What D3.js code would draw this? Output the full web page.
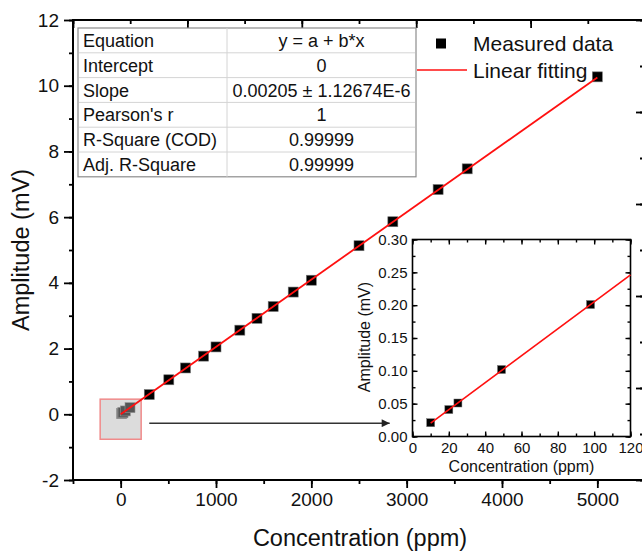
<!DOCTYPE html>
<html>
<head>
<meta charset="utf-8">
<script src="https://cdn.jsdelivr.net/npm/d3@7"></script>
<style>
  body { margin: 0; background: #fff; }
  svg { display: block; font-family: "Liberation Sans", Arial, sans-serif; }
</style>
</head>
<body>
<div id="chart"></div>
<script>
// Calibration data
const concMain = [10, 20, 25, 49, 98, 300, 505, 680, 870, 1000, 1250, 1430, 1600, 1810, 2000, 2500, 2855, 3330, 3635, 5000];
const ampMain = [0.021, 0.041, 0.051, 0.102, 0.201, 0.60, 1.05, 1.41, 1.77, 2.05, 2.56, 2.92, 3.28, 3.72, 4.08, 5.13, 5.86, 6.84, 7.47, 10.27];

// low concentration points shown in the inset
const concInset = [10, 20, 25, 49, 98];
const ampInset = [0.021, 0.041, 0.051, 0.102, 0.201];

// linear fit endpoints (y = b*x, b = 0.00205)
const fitMain = [[0, 0], [5000, 10.25]];
const fitInset = [[10, 0.0205], [120, 0.246]];

const xTicksMain = [0, 1000, 2000, 3000, 4000, 5000];
const yTicksMain = [-2, 0, 2, 4, 6, 8, 10, 12];
const xTicksInset = [0, 20, 40, 60, 80, 100, 120];
const yTicksInset = [0, 0.05, 0.10, 0.15, 0.20, 0.25, 0.30];

const tableLabels = ['Equation', 'Intercept', 'Slope', "Pearson's r", 'R-Square (COD)', 'Adj. R-Square'];
const tableValues = ['y = a + b*x', '0', '0.00205 \u00b1 1.12674E-6', '1', '0.99999', '0.99999'];

const legendLabels = ['Measured data', 'Linear fitting'];

const W = 642, H = 552;
const svg = d3.select('#chart').append('svg').attr('width', W).attr('height', H);

// plain hyphen for negatives, like the original
const intFmt = d => String(d);

// ---------- main plot ----------
const m = {left: 73, top: 20, right: 645, bottom: 480};
const x = d3.scaleLinear().domain([-500, 5500]).range([m.left, m.right]);
const y = d3.scaleLinear().domain([-2, 12]).range([m.bottom, m.top]);
// top / right axes carry plain 5-division ticks
const xTop = d3.scaleLinear().domain([0, 5]).range([m.left, m.right]);
const yRight = d3.scaleLinear().domain([0, 5]).range([m.bottom, m.top]);

function styleAxis(g, fs) {
    g.selectAll('.domain').remove();
    g.selectAll('line').attr('stroke', '#000').attr('stroke-width', 1.8);
    g.selectAll('text').attr('fill', '#111').style('font-size', fs + 'px');
}

const half = d => d3.range(d[0], d[1] + 1e-9, (d[1] - d[0]) / 10);

// bottom
svg.append('g').attr('transform', `translate(0,${m.bottom})`)
    .call(d3.axisBottom(x).tickValues(d3.range(-500, 5501, 500)).tickSize(4).tickFormat(''))
    .call(g => styleAxis(g, 18));
svg.append('g').attr('transform', `translate(0,${m.bottom})`)
    .call(d3.axisBottom(x).tickValues(xTicksMain).tickSize(8).tickPadding(5).tickFormat(intFmt))
    .call(g => styleAxis(g, 19));
// left
svg.append('g').attr('transform', `translate(${m.left},0)`)
    .call(d3.axisLeft(y).tickValues(d3.range(-2, 12.01, 1)).tickSize(4).tickFormat(''))
    .call(g => styleAxis(g, 18));
svg.append('g').attr('transform', `translate(${m.left},0)`)
    .call(d3.axisLeft(y).tickValues(yTicksMain).tickSize(9).tickPadding(5).tickFormat(intFmt))
    .call(g => styleAxis(g, 19));
// top (inward)
svg.append('g').attr('transform', `translate(0,${m.top})`)
    .call(d3.axisTop(xTop).tickValues(half([0, 5])).tickSize(-4).tickFormat(''))
    .call(g => styleAxis(g, 10));
svg.append('g').attr('transform', `translate(0,${m.top})`)
    .call(d3.axisTop(xTop).tickValues(d3.range(0, 6)).tickSize(-8).tickFormat(''))
    .call(g => styleAxis(g, 10));
// right (inward)
svg.append('g').attr('transform', `translate(${m.right},0)`)
    .call(d3.axisRight(yRight).tickValues(half([0, 5])).tickSize(-5).tickFormat(''))
    .call(g => styleAxis(g, 10));
svg.append('g').attr('transform', `translate(${m.right},0)`)
    .call(d3.axisRight(yRight).tickValues(d3.range(0, 6)).tickSize(-9).tickFormat(''))
    .call(g => styleAxis(g, 10));

// frame
svg.append('rect')
    .attr('x', m.left).attr('y', m.top)
    .attr('width', m.right - m.left).attr('height', m.bottom - m.top)
    .attr('fill', 'none').attr('stroke', '#000').attr('stroke-width', 2);

// axis titles
svg.append('text')
    .attr('x', (m.left + m.right) / 2 + 1).attr('y', 546)
    .attr('text-anchor', 'middle').style('font-size', '23.5px').attr('fill', '#111')
    .text('Concentration (ppm)');
svg.append('text')
    .attr('transform', `translate(29,250) rotate(-90)`)
    .attr('text-anchor', 'middle').style('font-size', '23.5px').attr('fill', '#111')
    .text('Amplitude (mV)');

// measured points
const mk = 10;
svg.append('g').selectAll('rect')
    .data(concMain.map((c, i) => [c, ampMain[i]]))
    .join('rect')
    .attr('x', d => x(d[0]) - mk / 2).attr('y', d => y(d[1]) - mk / 2)
    .attr('width', mk).attr('height', mk)
    .attr('fill', '#000').attr('stroke', '#777').attr('stroke-width', 0.6);

// highlight box around the low-concentration region
const box = {x0: -215, x1: 215, y0: -0.76, y1: 0.46};
svg.append('rect')
    .attr('x', x(box.x0)).attr('y', y(box.y1))
    .attr('width', x(box.x1) - x(box.x0)).attr('height', y(box.y0) - y(box.y1))
    .attr('fill', 'rgb(181,181,181)').attr('fill-opacity', 0.47)
    .attr('stroke', '#f08a8a').attr('stroke-width', 1.5);

// fit line
const line = d3.line().x(d => x(d[0])).y(d => y(d[1]));
svg.append('path').attr('d', line(fitMain))
    .attr('fill', 'none').attr('stroke', '#ff1010').attr('stroke-width', 1.8);

// arrow to the inset
svg.append('defs').append('marker')
    .attr('id', 'arrow').attr('viewBox', '0 0 10 10')
    .attr('refX', 10).attr('refY', 5)
    .attr('markerWidth', 10).attr('markerHeight', 8).attr('markerUnits', 'userSpaceOnUse')
    .attr('orient', 'auto')
    .append('path').attr('d', 'M0,0L10,5L0,10Z').attr('fill', '#222');
svg.append('line')
    .attr('x1', x(300)).attr('x2', x(2822))
    .attr('y1', y(-0.27)).attr('y2', y(-0.27))
    .attr('stroke', '#333').attr('stroke-width', 1.5)
    .attr('marker-end', 'url(#arrow)');

// ---------- statistics table ----------
const tb = {x: 78, y: 28, col: 227, right: 416, rowH: 24.8};
const tg = svg.append('g');
tg.append('rect')
    .attr('x', tb.x).attr('y', tb.y)
    .attr('width', tb.right - tb.x).attr('height', tb.rowH * tableLabels.length)
    .attr('fill', '#fff').attr('stroke', '#8c8c8c').attr('stroke-width', 1.2);
tableLabels.forEach((lab, i) => {
    if (i > 0) {
        tg.append('line')
            .attr('x1', tb.x + 1).attr('x2', tb.right - 1)
            .attr('y1', tb.y + i * tb.rowH).attr('y2', tb.y + i * tb.rowH)
            .attr('stroke', '#d4d4d4').attr('stroke-width', 1);
    }
    const cy = tb.y + (i + 0.5) * tb.rowH;
    tg.append('text').attr('x', tb.x + 5).attr('y', cy + 6.5)
        .style('font-size', '18px').attr('fill', '#111').text(lab);
    tg.append('text').attr('x', (tb.col + tb.right) / 2).attr('y', cy + 6.5)
        .attr('text-anchor', 'middle')
        .style('font-size', '18px').attr('fill', '#111').text(tableValues[i]);
});
tg.append('line')
    .attr('x1', tb.col).attr('x2', tb.col)
    .attr('y1', tb.y).attr('y2', tb.y + tb.rowH * tableLabels.length)
    .attr('stroke', '#d4d4d4').attr('stroke-width', 1);

// ---------- legend ----------
const lg = svg.append('g');
lg.append('rect').attr('x', 436).attr('y', 38.5).attr('width', 10).attr('height', 10).attr('fill', '#000');
lg.append('text').attr('x', 473).attr('y', 51).style('font-size', '21px').attr('fill', '#111').text(legendLabels[0]);
lg.append('line').attr('x1', 417).attr('x2', 467).attr('y1', 70).attr('y2', 70)
    .attr('stroke', '#ff1010').attr('stroke-width', 1.5);
lg.append('text').attr('x', 473).attr('y', 78).style('font-size', '21px').attr('fill', '#111').text(legendLabels[1]);

// ---------- inset ----------
const n = {left: 412.5, top: 239.5, right: 630.5, bottom: 436.5};
const xi = d3.scaleLinear().domain([0, 120]).range([n.left, n.right]);
const yi = d3.scaleLinear().domain([0, 0.30]).range([n.bottom, n.top]);

svg.append('rect')
    .attr('x', n.left).attr('y', n.top)
    .attr('width', n.right - n.left).attr('height', n.bottom - n.top)
    .attr('fill', '#fff');

function styleInset(g) {
    g.selectAll('.domain').remove();
    g.selectAll('line').attr('stroke', '#000').attr('stroke-width', 1.4);
    g.selectAll('text').attr('fill', '#111').style('font-size', '15px');
}
const minorX = d3.range(0, 121, 10);
const minorY = d3.range(0, 0.3001, 0.025);

svg.append('g').attr('transform', `translate(0,${n.bottom})`)
    .call(d3.axisBottom(xi).tickValues(minorX).tickSize(-3).tickFormat('')).call(styleInset);
svg.append('g').attr('transform', `translate(0,${n.bottom})`)
    .call(d3.axisBottom(xi).tickValues(xTicksInset).tickSize(-5).tickPadding(6).tickFormat(intFmt)).call(styleInset);
svg.append('g').attr('transform', `translate(0,${n.top})`)
    .call(d3.axisTop(xi).tickValues(minorX).tickSize(-3).tickFormat('')).call(styleInset);
svg.append('g').attr('transform', `translate(0,${n.top})`)
    .call(d3.axisTop(xi).tickValues(xTicksInset).tickSize(-5).tickFormat('')).call(styleInset);
svg.append('g').attr('transform', `translate(${n.left},0)`)
    .call(d3.axisLeft(yi).tickValues(minorY).tickSize(-3).tickFormat('')).call(styleInset);
svg.append('g').attr('transform', `translate(${n.left},0)`)
    .call(d3.axisLeft(yi).tickValues(yTicksInset).tickSize(-5).tickPadding(5).tickFormat(d3.format('.2f'))).call(styleInset);
svg.append('g').attr('transform', `translate(${n.right},0)`)
    .call(d3.axisRight(yi).tickValues(minorY).tickSize(-3).tickFormat('')).call(styleInset);
svg.append('g').attr('transform', `translate(${n.right},0)`)
    .call(d3.axisRight(yi).tickValues(yTicksInset).tickSize(-5).tickFormat('')).call(styleInset);

svg.append('rect')
    .attr('x', n.left).attr('y', n.top)
    .attr('width', n.right - n.left).attr('height', n.bottom - n.top)
    .attr('fill', 'none').attr('stroke', '#000').attr('stroke-width', 1.6);

const mi = 8;
svg.append('g').selectAll('rect')
    .data(concInset.map((c, i) => [c, ampInset[i]]))
    .join('rect')
    .attr('x', d => xi(d[0]) - mi / 2).attr('y', d => yi(d[1]) - mi / 2)
    .attr('width', mi).attr('height', mi)
    .attr('fill', '#000').attr('stroke', '#777').attr('stroke-width', 0.5);

const lineI = d3.line().x(d => xi(d[0])).y(d => yi(d[1]));
svg.append('path').attr('d', lineI(fitInset))
    .attr('fill', 'none').attr('stroke', '#ff1010').attr('stroke-width', 1.6);

svg.append('text')
    .attr('x', (n.left + n.right) / 2).attr('y', 472)
    .attr('text-anchor', 'middle').style('font-size', '16px').attr('fill', '#111')
    .text('Concentration (ppm)');
svg.append('text')
    .attr('transform', `translate(370,337) rotate(-90)`)
    .attr('text-anchor', 'middle').style('font-size', '16px').attr('fill', '#111')
    .text('Amplitude (mV)');
</script>
</body>
</html>
